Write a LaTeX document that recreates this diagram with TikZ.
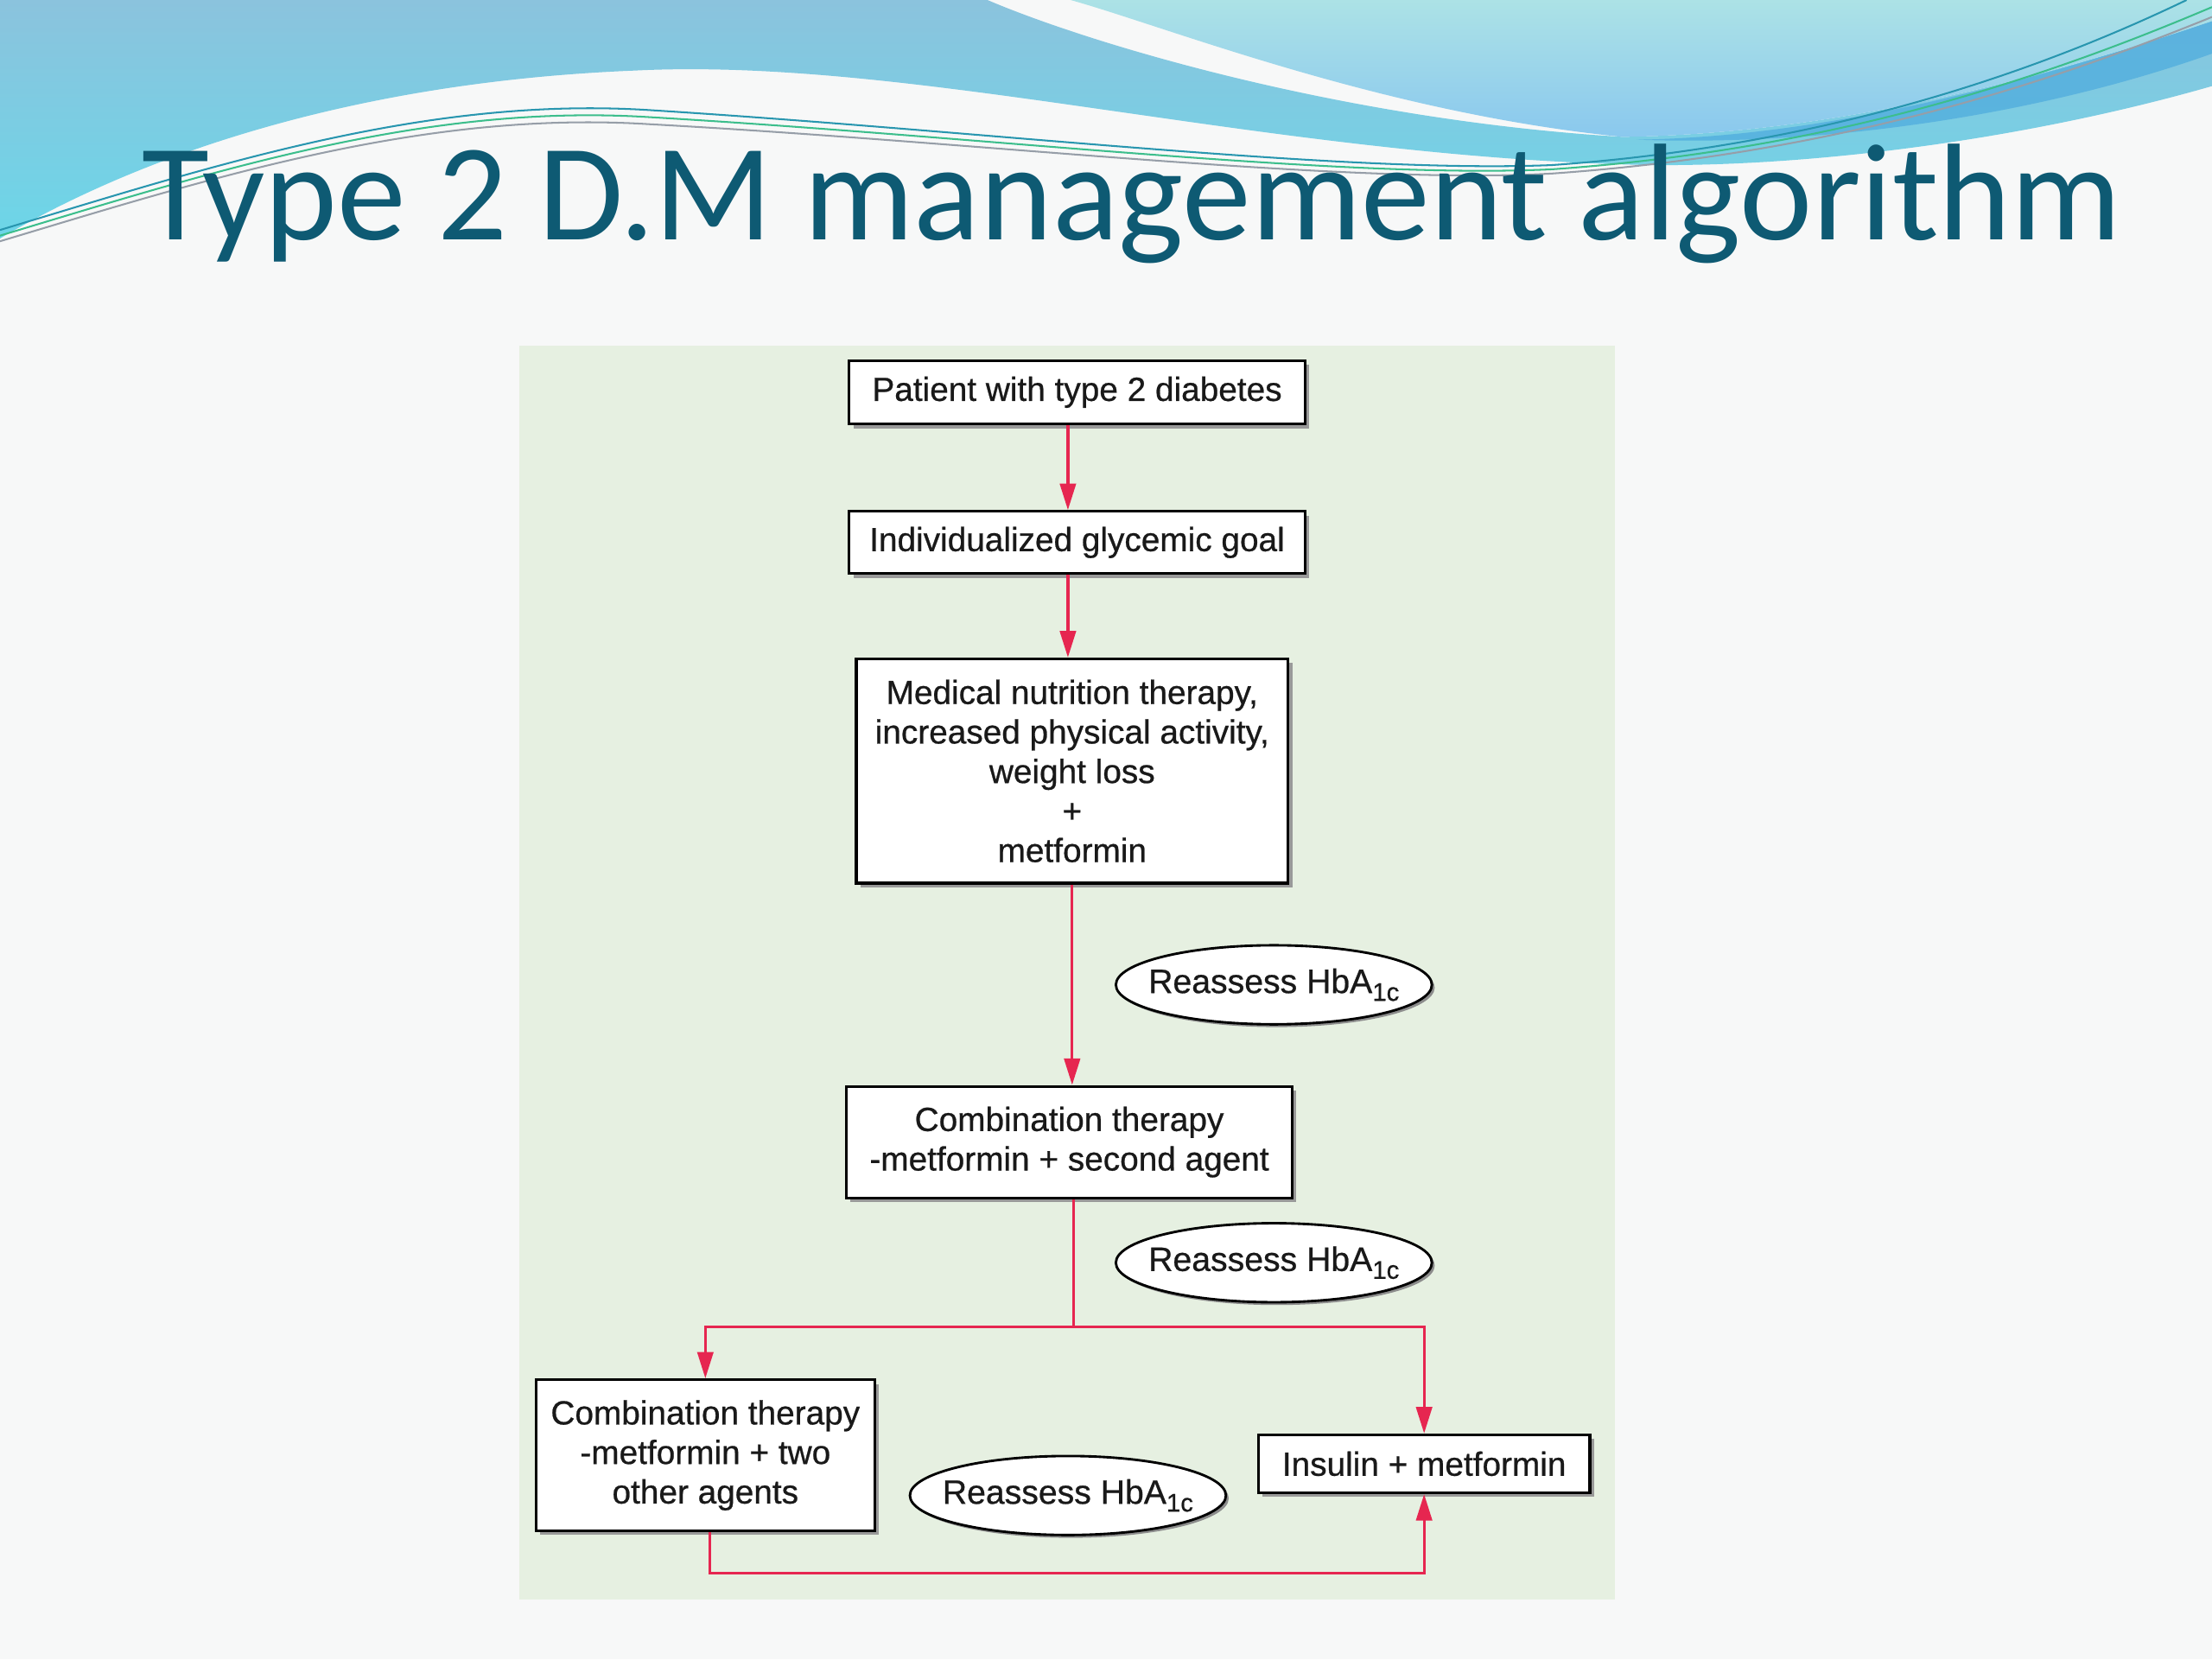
\documentclass[tikz,border=0pt]{standalone}
\usepackage{fontspec}
\setmainfont[FakeBold=0.6]{Liberation Sans}
\newfontfamily\titlefont{Carlito}
\usetikzlibrary{arrows.meta,shapes.geometric,shadows}
\definecolor{bgc}{RGB}{247,248,248}
\definecolor{panelc}{RGB}{230,240,225}
\definecolor{titlec}{RGB}{14,90,115}
\definecolor{arrc}{RGB}{230,38,80}
\definecolor{blueA1}{RGB}{139,195,221}
\definecolor{blueA2}{RGB}{108,214,232}
\definecolor{blueB1}{RGB}{172,226,230}
\definecolor{blueB2}{RGB}{138,200,238}
\definecolor{streak}{RGB}{82,174,222}
\definecolor{txtc}{RGB}{25,25,25}
\tikzset{
  box/.style={draw=black, line width=0.8pt, fill=white, inner sep=2pt, align=center,
    font=\fontsize{9.5}{11.2}\selectfont, text=txtc,
    drop shadow={shadow xshift=1.2pt, shadow yshift=-1.2pt, fill=black!40, opacity=1}},
  reass/.style={ellipse, draw=black, line width=0.7pt, fill=white, inner sep=0pt,
    minimum width=89.6pt, minimum height=22.4pt,
    font=\fontsize{9.6}{11}\selectfont, text=txtc,
    drop shadow={shadow xshift=0.8pt, shadow yshift=-0.8pt, fill=black!45, opacity=1}},
  arr/.style={draw=arrc, line width=0.8pt, -{Triangle[length=7.5pt,width=4.5pt]}},
  conn/.style={draw=arrc, line width=0.8pt},
  wline/.style={line width=0.5pt}
}
\newcommand{\reassesstext}{\makebox[0pt]{Reassess HbA\raisebox{-2.2pt}{\fontsize{7.2}{8}\selectfont 1c}}}
\begin{document}
\begin{tikzpicture}[x=0.4pt,y=-0.4pt]
\useasboundingbox (0,0) rectangle (1568,1176);
\fill[bgc] (0,0) rectangle (1568,1176);
% banner
\shade[top color=blueA1, bottom color=blueA2]
  (0,0) -- (700,0) .. controls (770,30) and (950,85) .. (1150,97)
  .. controls (1300,95) and (1450,55) .. (1568,15) -- (1568,61)
  .. controls (1450,95) and (1300,118) .. (1170,117)
  .. controls (900,112) and (650,40) .. (450,50)
  .. controls (250,58) and (100,110) .. (0,169) -- cycle;
\shade[top color=blueB1, bottom color=blueB2]
  (759,0) .. controls (830,20) and (980,80) .. (1150,97)
  .. controls (1300,95) and (1450,55) .. (1568,15) -- (1568,0) -- cycle;
\fill[streak, opacity=0.8]
  (1160,99) .. controls (1300,97) and (1450,55) .. (1568,15) -- (1568,38)
  .. controls (1450,80) and (1300,104) .. (1160,99) -- cycle;
\draw[wline, draw={rgb,255:red,40;green,150;blue,175}]
  (0,163) .. controls (150,118) and (300,68) .. (460,78) .. controls (700,93) and (950,123) .. (1100,117) .. controls (1300,103) and (1450,48) .. (1550,0);
\draw[wline, draw={rgb,255:red,60;green,190;blue,140}]
  (0,167) .. controls (150,122) and (300,73) .. (460,83) .. controls (700,97) and (950,127) .. (1100,120) .. controls (1300,106) and (1450,55) .. (1568,5);
\draw[wline, draw={rgb,255:red,150;green,158;blue,168}]
  (0,171) .. controls (150,126) and (300,78) .. (460,88) .. controls (700,101) and (950,131) .. (1100,123) .. controls (1300,109) and (1450,60) .. (1568,12);
% title
\node[anchor=base west, inner sep=0pt, text=titlec, font=\titlefont\fontsize{39.1}{46}\selectfont] (title) at (100,170) {Type 2 D.M management algorithm};
% panel
\fill[panelc] (368,245) rectangle (1145,1134);
% boxes
\node[box, minimum width=129.2pt, minimum height=18pt] (b1) at (763.5,278) {Patient with type 2 diabetes};
\node[box, minimum width=129.2pt, minimum height=17.6pt] (b2) at (763.5,384.5) {Individualized glycemic goal};
\node[box, minimum width=122.4pt, minimum height=63.6pt] (b3) at (760,546.5) {Medical nutrition therapy,\\increased physical activity,\\weight loss\\+\\metformin};
\node[box, minimum width=126.4pt, minimum height=31.6pt] (b4) at (758,809.5) {Combination therapy\\-metformin + second agent};
\node[box, minimum width=96pt, minimum height=42.8pt] (b5) at (500,1031.5) {Combination therapy\\-metformin + two\\other agents};
\node[box, minimum width=94pt, minimum height=16.4pt] (b6) at (1009.5,1037.5) {Insulin + metformin};
% reassess ellipses
\node[reass] (e1) at (903,698) {\reassesstext};
\node[reass] (e2) at (903,895) {\reassesstext};
\node[reass] (e3) at (757,1060) {\reassesstext};
% connectors
\coordinate (j) at (761,940.5);
\coordinate (k) at (503,1115);
\draw[arr] ([xshift=-2.6pt]b1.south) -- ([xshift=-2.6pt]b2.north);
\draw[arr] ([xshift=-2.6pt]b2.south) -- ([xshift=-2.6pt]b2.south |- b3.north);
\draw[arr] (b3.south) -- (b3.south |- b4.north);
\draw[conn] (j |- b4.south) -- (j);
\draw[arr] (j) -| (b5.north);
\draw[arr] (j) -| (b6.north);
\draw[arr] (k |- b5.south) -- (k) -| (b6.south);
\end{tikzpicture}
\end{document}
